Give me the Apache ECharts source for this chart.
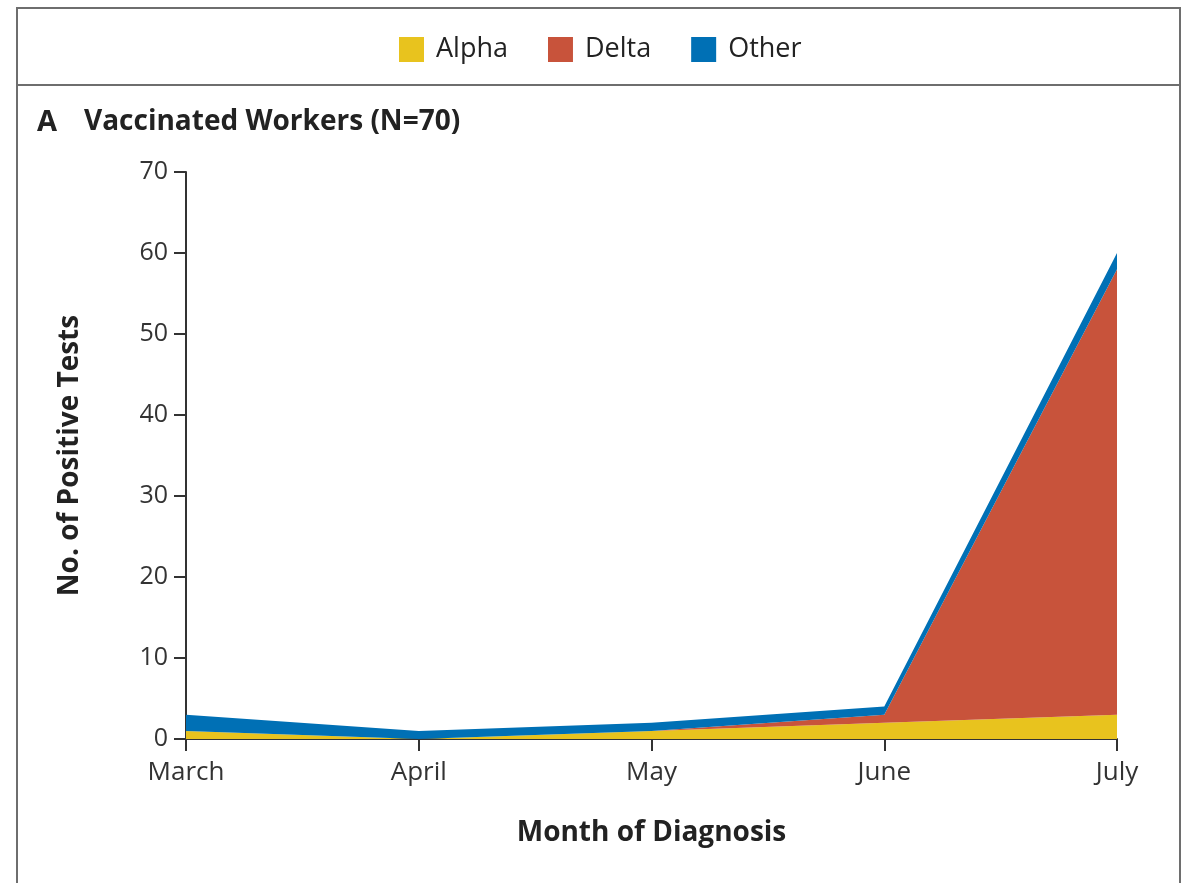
<!DOCTYPE html>
<html>
<head>
<meta charset="utf-8">
<script src="https://cdn.jsdelivr.net/npm/echarts@6/dist/echarts.min.js"></script>
<style>
  html, body { margin: 0; padding: 0; background: #fff; }
  #chart { width: 1189px; height: 883px; }
</style>
</head>
<body>
<div id="chart"></div>
<script>
// months and counts per variant
var months = ['March', 'April', 'May', 'June', 'July'];
var alpha = [1, 0, 1, 2, 3];
var delta = [0, 0, 0, 1, 55];
var other = [2, 1, 1, 1, 2];

var font = '"Open Sans", "Noto Sans", sans-serif';
var myChart = echarts.init(document.getElementById('chart'));

function areaSeries(name, data, color) {
    return {
        name: name,
        type: 'line',
        stack: 'total',
        data: data,
        symbol: 'none',
        lineStyle: { width: 0 },
        itemStyle: { color: color },
        areaStyle: { color: color, opacity: 1 }
    };
}

var option = {
    animation: false,
    textStyle: { fontFamily: font },
    legend: {
        top: 31,
        left: 394,
        icon: 'rect',
        itemWidth: 25,
        itemHeight: 25,
        itemGap: 40,
        textStyle: { fontSize: 27, color: '#222', fontFamily: font, padding: [0, 0, 0, 7] },
        data: ['Alpha', 'Delta', 'Other']
    },
    graphic: [
        { type: 'rect', shape: { x: 17, y: 8, width: 1163, height: 900 }, style: { fill: 'none', stroke: '#6e6e6e', lineWidth: 2 } },
        { type: 'line', shape: { x1: 17, y1: 85, x2: 1180, y2: 85 }, style: { stroke: '#6e6e6e', lineWidth: 2 } },
        { type: 'text', left: 37, top: 108, style: { text: 'A', font: 'bold 29px ' + font, fill: '#222' } },
        { type: 'text', left: 84, top: 108, style: { text: 'Vaccinated Workers (N=70)', font: 'bold 28px ' + font, fill: '#222' } }
    ],
    grid: { left: 186, right: 72, top: 172, bottom: 144 },
    xAxis: {
        type: 'category',
        data: months,
        boundaryGap: false,
        name: 'Month of Diagnosis',
        nameLocation: 'middle',
        nameGap: 80,
        nameTextStyle: { fontSize: 28, fontWeight: 'bold', color: '#222' },
        axisLine: { lineStyle: { color: '#333', width: 2 } },
        axisTick: { length: 12, lineStyle: { color: '#333', width: 2 }, alignWithLabel: true },
        axisLabel: { fontSize: 26, color: '#333', margin: 21 }
    },
    yAxis: {
        type: 'value',
        min: 0,
        max: 70,
        interval: 10,
        name: 'No. of Positive Tests',
        nameLocation: 'middle',
        nameGap: 102,
        nameTextStyle: { fontSize: 28, fontWeight: 'bold', color: '#222' },
        splitLine: { show: false },
        axisLine: { show: true, lineStyle: { color: '#333', width: 2 } },
        axisTick: { show: true, length: 12, lineStyle: { color: '#333', width: 2 } },
        axisLabel: { fontSize: 25, color: '#333', margin: 18 }
    },
    series: [
        areaSeries('Alpha', alpha, '#e8c31e'),
        areaSeries('Delta', delta, '#c8533b'),
        areaSeries('Other', other, '#0070b5')
    ]
};
myChart.setOption(option);
</script>
</body>
</html>
